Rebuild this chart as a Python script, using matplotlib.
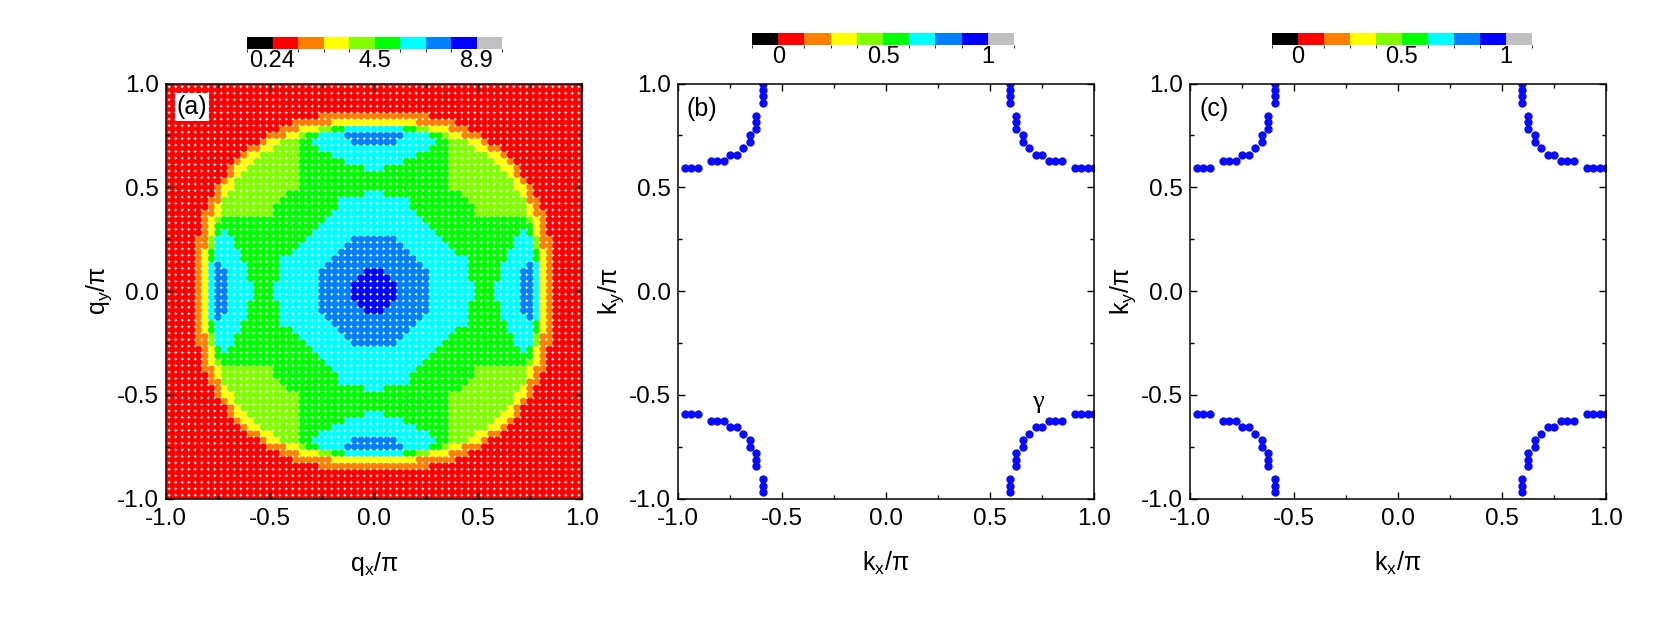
import numpy as np
import matplotlib
matplotlib.use("Agg")
import matplotlib.pyplot as plt
from matplotlib.colors import ListedColormap, BoundaryNorm
from matplotlib.cm import ScalarMappable
from matplotlib.ticker import MultipleLocator, FormatStrFormatter

plt.rcParams['font.family'] = ['Liberation Sans', 'DejaVu Sans']
plt.rcParams['axes.unicode_minus'] = False

# colour scale shared by all three colorbars (10 cells)
level_colors = ['#000000', '#ff0000', '#ff8000', '#ffff00', '#80ff00',
                '#00ff00', '#00ffff', '#0080ff', '#0000ff', '#c0c0c0']
cbar_tick_pos = [1, 5, 9]
cbar_labels_a = ['0.24', '4.5', '8.9']
cbar_labels_bc = ['0', '0.5', '1']

# panel (a): colour level of each q point, one octant (row j = qy*32, cols 0..j)
# 1 red, 2 orange, 3 yellow, 4 yellow-green, 5 green, 6 cyan, 7 light blue, 8 blue
octant_rows = [
    "8",
    "88",
    "888",
    "8877",
    "77777",
    "777777",
    "7777776",
    "77777666",
    "777766666",
    "6666666666",
    "66666666655",
    "666666665555",
    "6666666555555",
    "66666655555555",
    "666666555555555",
    "6655555555555544",
    "55555555555544444",
    "555555555555444444",
    "5555555555554444444",
    "66555555555544444444",
    "666665555555444444433",
    "6666666555554444443321",
    "66666666655544443322111",
    "777766666655444332111111",
    "7777766665543322211111111",
    "66666554433322211111111111",
    "333333322222211111111111111",
    "2222222221111111111111111111",
    "11111111111111111111111111111",
    "111111111111111111111111111111",
    "1111111111111111111111111111111",
    "11111111111111111111111111111111",
    "111111111111111111111111111111111",
]

# panels (b), (c): Fermi surface points of the upper-right arc, in units of pi/32
arc_nx = [19, 19, 19, 19, 20, 20, 20, 21, 21, 22, 23, 24, 25, 26, 27, 29, 30, 31, 32]
arc_ny = [32, 31, 30, 29, 27, 26, 25, 24, 23, 22, 21, 21, 20, 20, 20, 19, 19, 19, 19]

cmap = ListedColormap(level_colors)
norm = BoundaryNorm(np.arange(11), cmap.N)

# build full 65x65 map from the octant
n = len(octant_rows)
quad = np.zeros((n, n), dtype=int)
for j, row in enumerate(octant_rows):
    quad[j, :j + 1] = [int(c) for c in row]
lower = np.tril(np.ones((n, n), dtype=bool))
quad = np.where(lower, quad, quad.T)
idx = np.abs(np.arange(-(n - 1), n))
levels = quad[np.ix_(idx, idx)]
grid = np.arange(-(n - 1), n) / (n - 1)
QX, QY = np.meshgrid(grid, grid)

# full set of arc points in all four corners
nx = np.array(arc_nx)
ny = np.array(arc_ny)
pts_x, pts_y = [], []
for sx in (1, -1):
    for sy in (1, -1):
        keep = np.ones(len(nx), dtype=bool)
        if sx < 0:
            keep &= nx < 32
        if sy < 0:
            keep &= ny < 32
        pts_x.extend(sx * nx[keep] / 32)
        pts_y.extend(sy * ny[keep] / 32)

fig = plt.figure(figsize=(16.61, 6.24), dpi=100)

lefts = [166, 678, 1190]
W, H = 1661, 624
axes = []
for l in lefts:
    ax = fig.add_axes([l / W, (H - 498.5) / H, 416 / W, 415 / H])
    axes.append(ax)


def style_axes(ax, xlabel, ylabel):
    ax.set_xlim(-1, 1)
    ax.set_ylim(-1, 1)
    for axis in (ax.xaxis, ax.yaxis):
        axis.set_major_locator(MultipleLocator(0.5))
        axis.set_minor_locator(MultipleLocator(0.25))
        axis.set_major_formatter(FormatStrFormatter('%.1f'))
    ax.tick_params(which='both', direction='in', top=True, right=True,
                   labelsize=17.5, width=1.0)
    ax.tick_params(which='major', length=5)
    ax.tick_params(which='minor', length=2.7)
    ax.tick_params(axis='x', which='major', pad=7)
    ax.tick_params(axis='y', which='major', pad=5)
    for sp in ax.spines.values():
        sp.set_linewidth(1.1)
    ax.set_xlabel(xlabel, fontsize=18, labelpad=14)
    ax.set_ylabel(ylabel, fontsize=18, labelpad=2.5)


# (a)
ax = axes[0]
ax.scatter(QX.ravel(), QY.ravel(), c=levels.ravel() + 0.5, cmap=cmap, norm=norm,
           s=27, marker='o', linewidths=0)
style_axes(ax, 'q$_\\mathregular{x}$/π', 'q$_\\mathregular{y}$/π')
ax.text(-0.875, 0.885, '(a)', fontsize=18, ha='center', va='center',
        bbox=dict(facecolor='white', edgecolor='none', pad=1.5))

# (b), (c)
for ax, tag in zip(axes[1:], ['(b)', '(c)']):
    ax.scatter(pts_x, pts_y, s=36, color='#0a0aff', linewidths=0)
    style_axes(ax, 'k$_\\mathregular{x}$/π', 'k$_\\mathregular{y}$/π')
    ax.text(-0.885, 0.875, tag, fontsize=18, ha='center', va='center')
axes[1].text(0.732, -0.533, 'γ', fontsize=19, ha='center', va='center',
             family=['Liberation Serif', 'DejaVu Serif'])


def add_cbar(x0, x1, top, labels):
    cax = fig.add_axes([x0 / W, (H - top - 12) / H, (x1 - x0) / W, 12 / H])
    cb = fig.colorbar(ScalarMappable(norm=norm, cmap=cmap), cax=cax,
                      orientation='horizontal')
    cb.set_ticks(cbar_tick_pos)
    cb.set_ticklabels(labels)
    cb.outline.set_visible(False)
    cax.tick_params(length=0, labelsize=17, pad=1)


add_cbar(247, 502, 37, cbar_labels_a)
add_cbar(752, 1014, 33, cbar_labels_bc)
add_cbar(1272, 1532, 33, cbar_labels_bc)

fig.savefig('out.png', dpi=100)
